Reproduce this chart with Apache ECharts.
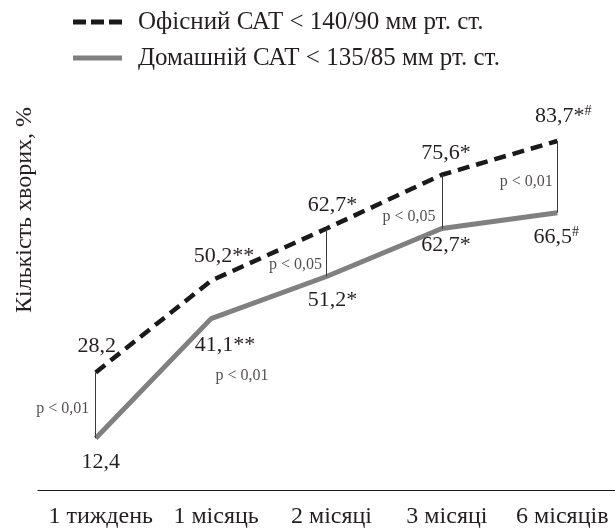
<!DOCTYPE html>
<html>
<head>
<meta charset="utf-8">
<script src="https://cdn.jsdelivr.net/npm/echarts@6/dist/echarts.min.js"></script>
<style>
  html, body { margin: 0; padding: 0; background: #fff; }
  #chart { width: 615px; height: 529px; }
</style>
</head>
<body>
<div id="chart"></div>
<script>
// ---- data ----
const categories = ['1 тиждень', '1 місяць', '2 місяці', '3 місяці', '6 місяців'];
const officeName = 'Офісний САТ < 140/90 мм рт. ст.';
const homeName = 'Домашній САТ < 135/85 мм рт. ст.';
const officeValues = [28.2, 50.2, 62.7, 75.6, 83.7];
const homeValues = [12.4, 41.1, 51.2, 62.7, 66.5];
const officeMarks = ['', '**', '*', '*', '*#'];
const homeMarks = ['', '**', '*', '*', '#'];
const pValues = ['p < 0,01', 'p < 0,01', 'p < 0,05', 'p < 0,05', 'p < 0,01'];
const connectorIndices = [0, 2, 3, 4];
const yAxisTitle = 'Кількість хворих, %';

// ---- layout / style (not data) ----
const FONT = '"Liberation Serif", "DejaVu Serif", serif';
const TEXT = '#231f20';
const officeLabelOffsets = [[1, -26], [13, -24], [6, -23], [4, -22], [6, -25]];
const homeLabelOffsets = [[5, 24], [14, 27], [6, 24], [4, 17], [-1, 25]];
const pLabelOffsets = [[-33, 3], [31, 76], [-31, 12], [-33, 15], [-31, 5]];

function fmt(v) { return v.toFixed(1).replace('.', ','); }
function richLabel(v, mark) {
  const star = mark.replace('#', '');
  let s = '{v|' + fmt(v) + star + '}';
  if (mark.indexOf('#') >= 0) s += '{s|#}';
  return s;
}
const rich = {
  v: { fontFamily: FONT, fontSize: 22, color: TEXT, lineHeight: 24 },
  s: { fontFamily: FONT, fontSize: 14, color: TEXT, verticalAlign: 'top', lineHeight: 24, padding: [0, 0, 10, 0] }
};

function valueData(values, marks, offsets) {
  return values.map((v, i) => ({
    value: v,
    label: { offset: offsets[i], formatter: richLabel(v, marks[i]) }
  }));
}

const chart = echarts.init(document.getElementById('chart'), null, { renderer: 'canvas' });
chart.setOption({
  backgroundColor: '#fff',
  animation: false,
  textStyle: { fontFamily: FONT, color: TEXT },
  grid: { left: 38, right: -12, top: 73, bottom: 39, containLabel: false },
  legend: {
    orient: 'vertical',
    left: 73,
    top: 8,
    padding: 0,
    itemWidth: 49,
    itemHeight: 5,
    itemGap: 8,
    textStyle: { fontFamily: FONT, fontSize: 25, color: TEXT, lineHeight: 28, padding: [0, 0, 0, 11] },
    data: [
      { name: officeName, icon: 'path://M0,0h13v5h-13z M18,0h13v5h-13z M36,0h13v5h-13z', itemStyle: { color: '#1a1a1a' } },
      { name: homeName, icon: 'path://M0,0h49v5h-49z', itemStyle: { color: '#808080' } }
    ]
  },
  xAxis: {
    type: 'category',
    data: categories,
    boundaryGap: true,
    axisLine: { lineStyle: { color: '#1a1a1a', width: 1.2 } },
    axisTick: { show: false },
    axisLabel: { fontFamily: FONT, fontSize: 24, color: TEXT, margin: 15, interval: 0, padding: [0, 0, 0, 10] }
  },
  yAxis: {
    type: 'value',
    min: 0,
    max: 100,
    axisLine: { show: false },
    axisTick: { show: false },
    axisLabel: { show: false },
    splitLine: { show: false }
  },
  graphic: [{
    type: 'text',
    x: 25,
    y: 210,
    rotation: Math.PI / 2,
    style: { text: yAxisTitle, font: '24px ' + FONT, fill: TEXT, align: 'center', verticalAlign: 'middle' }
  }],
  series: [
    {
      name: officeName,
      type: 'line',
      data: valueData(officeValues, officeMarks, officeLabelOffsets),
      symbol: 'circle',
      symbolSize: 0,
      showSymbol: true,
      z: 3,
      lineStyle: { color: '#1a1a1a', width: 4.5, type: [12, 7], cap: 'butt' },
      itemStyle: { color: '#1a1a1a' },
      label: { show: true, position: 'inside', rich: rich }
    },
    {
      name: homeName,
      type: 'line',
      data: valueData(homeValues, homeMarks, homeLabelOffsets),
      symbol: 'circle',
      symbolSize: 0,
      showSymbol: true,
      z: 3,
      lineStyle: { color: '#808080', width: 5 },
      itemStyle: { color: '#808080' },
      label: { show: true, position: 'inside', rich: rich },
      markLine: {
        silent: true,
        symbol: ['none', 'none'],
        label: { show: false },
        lineStyle: { color: '#3a3a3a', width: 1, type: 'solid' },
        data: connectorIndices.map(i => [
          { coord: [categories[i], officeValues[i]] },
          { coord: [categories[i], homeValues[i]] }
        ])
      }
    },
    {
      name: 'p',
      type: 'scatter',
      symbolSize: 0,
      silent: true,
      data: pValues.map((p, i) => ({
        value: [categories[i], (officeValues[i] + homeValues[i]) / 2],
        label: { offset: pLabelOffsets[i], formatter: p }
      })),
      label: { show: true, position: 'inside', fontFamily: FONT, fontSize: 16, color: TEXT }
    }
  ]
});
</script>
</body>
</html>
